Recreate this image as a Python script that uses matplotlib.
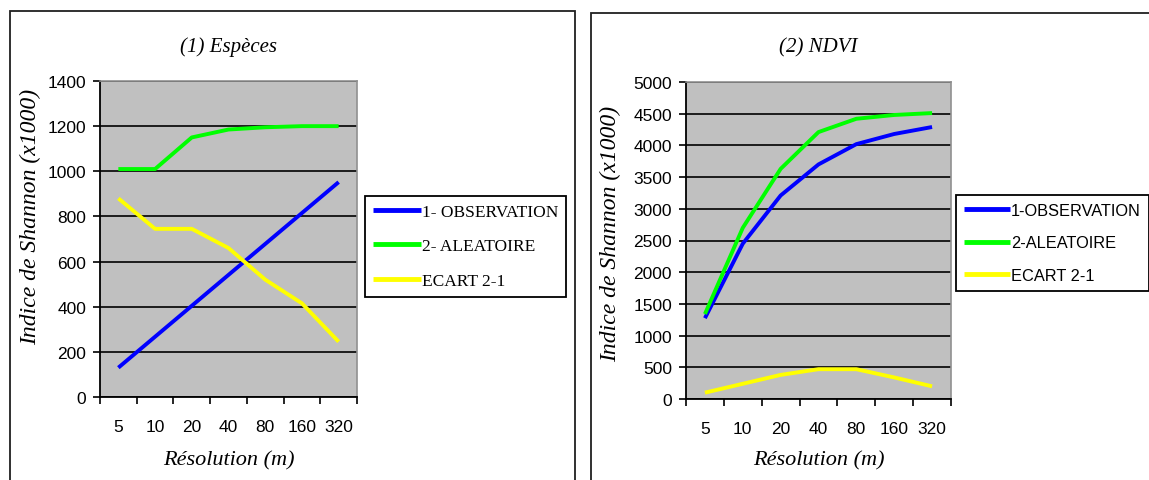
import matplotlib
matplotlib.use("Agg")
import matplotlib.pyplot as plt
from matplotlib.patches import Rectangle
import numpy as np

# ---- data ----
resolutions = ["5", "10", "20", "40", "80", "160", "320"]
series_names = ["1- OBSERVATION", "2- ALEATOIRE", "ECART 2-1"]
series_names_2 = ["1-OBSERVATION", "2-ALEATOIRE", "ECART 2-1"]

especes_observation = [130, 267, 404, 541, 678, 815, 952]
especes_aleatoire = [1010, 1010, 1150, 1185, 1195, 1200, 1200]
especes_ecart = [880, 745, 745, 660, 520, 415, 245]

ndvi_observation = [1275, 2450, 3210, 3700, 4020, 4180, 4290]
ndvi_aleatoire = [1340, 2700, 3630, 4210, 4420, 4480, 4510]
ndvi_ecart = [100, 240, 380, 470, 470, 340, 200]

colors = ["#0000FF", "#00FF00", "#FFFF00"]

W, H = 1149, 481
fig = plt.figure(figsize=(W / 100, H / 100), dpi=100)
fig.patch.set_facecolor("white")

def px_rect(x0, y0, x1, y1):
    return [x0 / W, 1 - y1 / H, (x1 - x0) / W, (y1 - y0) / H]

serif = "Liberation Serif"
sans = "Liberation Sans"

# panel frames
fig.patches.append(Rectangle((10 / W, -0.05), (575 - 10) / W, 1.05 - 12 / H,
                             transform=fig.transFigure, fill=False,
                             edgecolor="#202020", linewidth=1.3))
fig.patches.append(Rectangle((591 / W, -0.05), 0.6, 1.05 - 14 / H,
                             transform=fig.transFigure, fill=False,
                             edgecolor="#202020", linewidth=1.3))


def make_panel(rect, obs, ale, ecart, ymax, ystep, title, names, legend_anchor,
               legend_font, legend_fs, legend_ls, legend_bp, title_y,
               label_x, label_y):
    ax = fig.add_axes(rect)
    ax.set_facecolor("#C0C0C0")
    x = np.arange(len(resolutions))
    for vals, c, n in zip([obs, ale, ecart], colors, names):
        ax.plot(x, vals, color=c, linewidth=2.8, label=n, solid_capstyle="butt")
    ax.set_xlim(-0.5, len(resolutions) - 0.5)
    ax.set_ylim(0, ymax)
    ax.set_yticks(np.arange(0, ymax + 1, ystep))
    ax.yaxis.grid(True, color="black", linewidth=1.2)
    ax.set_axisbelow(True)
    ax.set_xticks(x)
    ax.set_xticklabels(resolutions, fontfamily=sans, fontsize=12.5)
    ax.set_xticks(np.arange(-0.5, len(resolutions)), minor=True)
    ax.tick_params(axis="x", which="major", length=0, pad=16)
    ax.tick_params(axis="x", which="minor", length=5, width=1.2, color="black")
    ax.tick_params(axis="y", length=5, width=1.2, pad=5, labelsize=12.5)
    for lab in ax.get_yticklabels():
        lab.set_fontfamily(sans)
    for s in ["top", "right"]:
        ax.spines[s].set_color("#909090")
        ax.spines[s].set_linewidth(1.2)
    for s in ["left", "bottom"]:
        ax.spines[s].set_color("black")
        ax.spines[s].set_linewidth(1.3)
    # title and labels
    cx = rect[0] + rect[2] / 2
    fig.text(cx, 1 - title_y / H, title, ha="center", va="center",
             fontfamily=serif, fontstyle="italic", fontsize=15)
    fig.text(cx, 1 - 461 / H, "Résolution (m)", ha="center", va="center",
             fontfamily=serif, fontstyle="italic", fontsize=16)
    fig.text(label_x / W, 1 - label_y / H, "Indice de Shannon (x1000)",
             ha="center", va="center", rotation=90,
             fontfamily=serif, fontstyle="italic", fontsize=17)
    leg = ax.legend(loc="upper left", bbox_to_anchor=legend_anchor,
                    bbox_transform=fig.transFigure, frameon=True,
                    fancybox=False, edgecolor="black", framealpha=1,
                    handlelength=2.8, handletextpad=0.05, labelspacing=legend_ls,
                    borderaxespad=0, borderpad=legend_bp,
                    prop={"family": legend_font, "size": legend_fs})
    leg.get_frame().set_linewidth(1.3)
    for l in leg.get_lines():
        l.set_linewidth(3.5)
    return ax

make_panel(px_rect(100, 82, 357, 398), especes_observation, especes_aleatoire,
           especes_ecart, 1400, 200, "(1) Espèces", series_names,
           (365 / W, 1 - 197 / H), serif, 12.5, 1.05, 0.45, 47, 31, 217)
make_panel(px_rect(686, 83, 951, 400), ndvi_observation, ndvi_aleatoire,
           ndvi_ecart, 5000, 500, "(2) NDVI", series_names_2,
           (956 / W, 1 - 196 / H), sans, 11.8, 1.05, 0.5, 48, 611, 234)

fig.savefig("out.png", dpi=100)
